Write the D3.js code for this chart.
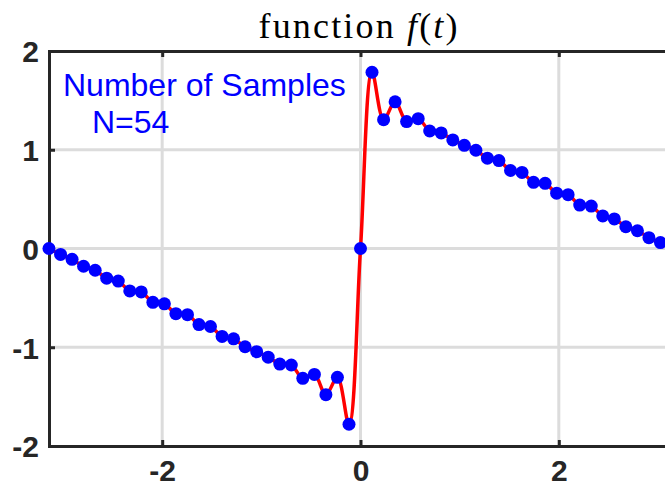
<!DOCTYPE html>
<html lang="en">
<head>
  <meta charset="UTF-8">
  <title>function f(t)</title>
  <script src="https://d3js.org/d3.v7.min.js"></script>
  <style>
    body { margin: 0; background: #fff; }
    svg { display: block; }
  </style>
</head>
<body>
  <div id="chart"></div>

  <script>
    // sample times (N = 54, from -pi in steps of 2pi/54)
    const sampleT = [
      -3.142, -3.025, -2.909, -2.793, -2.676, -2.560, -2.443, -2.327, -2.211, -2.094,
      -1.978, -1.862, -1.745, -1.629, -1.513, -1.396, -1.280, -1.164, -1.047, -0.931,
      -0.814, -0.698, -0.582, -0.465, -0.349, -0.233, -0.116, 0.000, 0.116, 0.233,
      0.349, 0.465, 0.582, 0.698, 0.814, 0.931, 1.047, 1.164, 1.280, 1.396,
      1.513, 1.629, 1.745, 1.862, 1.978, 2.094, 2.211, 2.327, 2.443, 2.560,
      2.676, 2.793, 2.909, 3.025
    ];

    const sampleF = [
      0.00, -0.06, -0.11, -0.18, -0.22, -0.30, -0.33, -0.43, -0.44, -0.545,
      -0.56, -0.66, -0.67, -0.77, -0.79, -0.89, -0.915, -0.995, -1.045, -1.10,
      -1.17, -1.18, -1.315, -1.275, -1.48, -1.305, -1.78, 0.00, 1.785, 1.305,
      1.485, 1.285, 1.315, 1.19, 1.17, 1.10, 1.045, 0.995, 0.915, 0.89,
      0.79, 0.77, 0.67, 0.66, 0.56, 0.545, 0.44, 0.43, 0.33, 0.30,
      0.22, 0.18, 0.11, 0.06
    ];

    const xTicks = [-2, 0, 2];
    const yTicks = [-2, -1, 0, 1, 2];
    const gridX = [-2, 0, 2];
    const gridY = [-1, 0, 1];

    const width = 665, height = 489;
    const plotL = 49, plotR = 672, plotT = 51, plotB = 446;

    const svg = d3.select("#chart").append("svg")
      .attr("width", width)
      .attr("height", height);

    const x = d3.scaleLinear().domain([-Math.PI, Math.PI]).range([plotL, plotR]);
    const y = d3.scaleLinear().domain([-2, 2]).range([plotB, plotT]);

    // grid
    svg.append("g").selectAll("line")
      .data(gridX).enter().append("line")
      .attr("x1", d => x(d)).attr("x2", d => x(d))
      .attr("y1", plotT).attr("y2", plotB)
      .attr("stroke", "#dcdcdc").attr("stroke-width", 3);

    svg.append("g").selectAll("line")
      .data(gridY).enter().append("line")
      .attr("x1", plotL).attr("x2", plotR)
      .attr("y1", d => y(d)).attr("y2", d => y(d))
      .attr("stroke", "#dcdcdc").attr("stroke-width", 3);

    // axes, matlab style ticks pointing in
    const tickFont = "'Liberation Sans Narrow', 'Liberation Sans', Arial, sans-serif";
    const fmt = d => String(d);   // plain hyphen minus like the original

    const yAxis = svg.append("g")
      .attr("transform", `translate(${plotL},0)`)
      .call(d3.axisLeft(y).tickValues(yTicks).tickSize(-6).tickPadding(10).tickFormat(fmt));

    const xAxis = svg.append("g")
      .attr("transform", `translate(0,${plotB})`)
      .call(d3.axisBottom(x).tickValues(xTicks).tickSize(-6).tickPadding(12).tickFormat(fmt));

    const topAxis = svg.append("g")
      .attr("transform", `translate(0,${plotT})`)
      .call(d3.axisTop(x).tickValues(xTicks).tickSize(-6).tickFormat(""));

    [yAxis, xAxis, topAxis].forEach(g => {
      g.select(".domain").attr("stroke", "#262626").attr("stroke-width", 3);
      g.selectAll(".tick line").attr("stroke", "#262626").attr("stroke-width", 3);
      g.selectAll(".tick text")
        .attr("fill", "#262626")
        .style("font-family", tickFont)
        .style("font-weight", "bold")
        .style("font-size", "30px");
    });
    xAxis.selectAll(".tick text").attr("dy", "0.75em");
    yAxis.selectAll(".tick text").attr("dy", "0.36em");

    // red curve through samples
    const line = d3.line()
      .x((d, i) => x(sampleT[i]))
      .y(d => y(d))
      .curve(d3.curveCatmullRom.alpha(0.5));

    svg.append("path")
      .attr("d", line(sampleF))
      .attr("fill", "none")
      .attr("stroke", "#ff0000")
      .attr("stroke-width", 3.5);

    // sample points
    svg.append("g").selectAll("circle")
      .data(sampleF).enter().append("circle")
      .attr("cx", (d, i) => x(sampleT[i]))
      .attr("cy", d => y(d))
      .attr("r", 6.5)
      .attr("fill", "#0000ff");

    // title
    const title = svg.append("text")
      .attr("x", 358).attr("y", 38)
      .attr("text-anchor", "middle")
      .attr("textLength", 199)
      .attr("lengthAdjust", "spacing")
      .style("font-family", "'Liberation Serif', 'DejaVu Serif', serif")
      .style("font-size", "36px")
      .attr("fill", "#000");
    title.append("tspan").text("function ");
    title.append("tspan").style("font-style", "italic").text("f");
    title.append("tspan").text("(");
    title.append("tspan").style("font-style", "italic").text("t");
    title.append("tspan").text(")");

    // annotation
    const note = svg.append("g")
      .style("font-family", "'Liberation Sans', Arial, sans-serif")
      .style("font-size", "32px")
      .attr("fill", "#0000ff");
    note.append("text").attr("x", 63).attr("y", 96).text("Number of Samples");
    note.append("text").attr("x", 92).attr("y", 133).text("N=54");
  </script>
</body>
</html>
